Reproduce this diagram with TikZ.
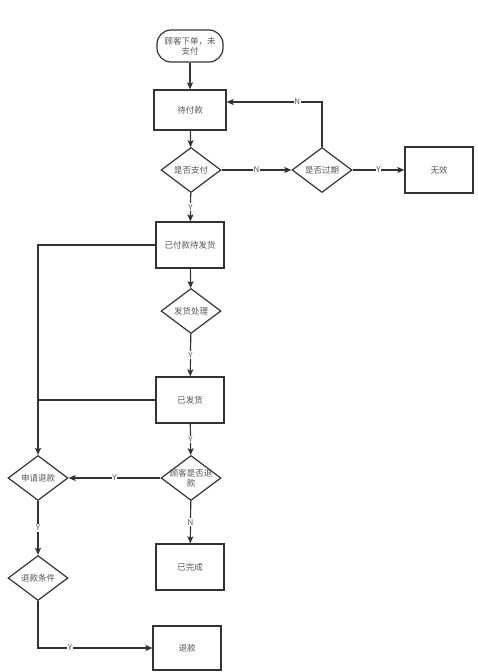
\documentclass[tikz,border=0pt]{standalone}
\usepackage{fontspec}
\setmainfont{Noto Sans CJK SC}
\usepackage{tikz}
\usetikzlibrary{arrows.meta, shapes.geometric}
\definecolor{linegray}{HTML}{333333}
\definecolor{textgray}{HTML}{555555}

\begin{document}
\begin{tikzpicture}[x=1pt, y=-1pt, font=\fontsize{8.5}{10.5}\selectfont,
  line/.style={draw=linegray, line width=1.2pt},
  arr/.style={line, -{Stealth[length=7pt, width=6pt, inset=1.5pt]}},
  box/.style={line, text=textgray, minimum width=68pt, minimum height=46pt, inner sep=0pt},
  dia/.style={line, diamond, minimum width=60pt, minimum height=45pt, inner sep=0pt},
  dtext/.style={text=textgray, align=center, inner sep=0pt},
  lab/.style={fill=white, inner sep=0.8pt, text=textgray, font=\fontsize{8}{9}\selectfont}]
  \useasboundingbox (0,0) rectangle (477,672);
  % nodes
  \node[line, rounded corners=14pt, text=textgray, align=center, minimum width=66pt, minimum height=32pt, inner sep=0pt] (start) at (190,46) {顾客下单，未\\支付};
  \node[box, minimum width=72pt, minimum height=40pt] (wait) at (190,110) {待付款};
  \node[dia, label={[dtext]center:是否支付}] (pay) at (191,170) {};
  \node[dia, label={[dtext]center:是否过期}] (expire) at (322,170) {};
  \node[box] (invalid) at (439,170) {无效};
  \node[box] (paid) at (190,245) {已付款待发货};
  \node[dia, label={[dtext]center:发货处理}] (proc) at (191,311) {};
  \node[box] (shipped) at (190,400) {已发货};
  \node[dia, label={[dtext]center:顾客是否退\\款}] (ask) at (191,478) {};
  \node[dia, label={[dtext]center:申请退款}] (apply) at (38,478) {};
  \node[box] (done) at (190,567) {已完成};
  \node[dia, label={[dtext]center:退款条件}] (cond) at (38,578) {};
  \node[box, minimum height=44pt] (refund) at (187,648) {退款};
  % connectors
  \draw[arr] (start) -- (wait);
  \draw[arr] (wait) -- (pay);
  \draw[arr] (pay) -- node[lab] {N} (expire);
  \draw[arr] (expire) -- node[lab] {Y} (invalid);
  \draw[arr] (expire.north) |- node[lab, pos=0.63] {N} ([yshift=8pt]wait.east);
  \draw[arr] (pay) -- node[lab] {Y} (paid);
  \draw[arr] (paid) -- (proc);
  \draw[arr] (proc) -- node[lab] {Y} (shipped);
  \draw[arr] (paid.west) -| (apply.north);
  \draw[line] (shipped.west) -- (shipped.west -| apply.north);
  \draw[arr] (shipped) -- node[lab] {Y} (ask);
  \draw[arr] (ask) -- node[lab] {Y} (apply);
  \draw[arr] (ask) -- node[lab] {N} (done);
  \draw[arr] (apply) -- node[lab] {Y} (cond);
  \draw[arr] (cond.south) |- node[lab, pos=0.64] {Y} (refund.west);
\end{tikzpicture}
\end{document}
